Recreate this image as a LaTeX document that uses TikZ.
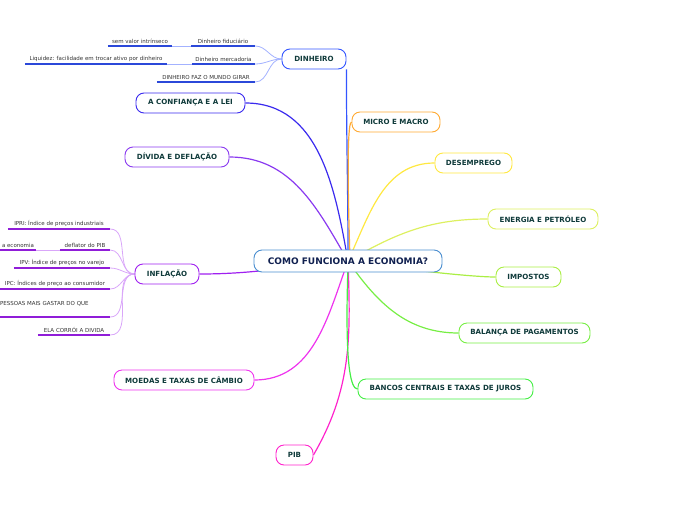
\documentclass[tikz,border=0pt]{standalone}
\usepackage{fontspec}
\setmainfont{DejaVu Sans}
\usetikzlibrary{backgrounds}

\definecolor{rootblue}{HTML}{4A8ED0}
\definecolor{roottext}{HTML}{102050}
\definecolor{topictext}{HTML}{0F3A3A}
\definecolor{leaftext}{HTML}{333333}
\definecolor{cdin}{HTML}{3355FF}
\definecolor{cconf}{HTML}{3A2AEE}
\definecolor{cdiv}{HTML}{8A3AF0}
\definecolor{cinf}{HTML}{A020F0}
\definecolor{cmoe}{HTML}{EE33EE}
\definecolor{cpib}{HTML}{FF22CC}
\definecolor{cmic}{HTML}{FFAA33}
\definecolor{cdes}{HTML}{FFE840}
\definecolor{cene}{HTML}{DDF060}
\definecolor{cimp}{HTML}{AAEE44}
\definecolor{cbal}{HTML}{77EE44}
\definecolor{cban}{HTML}{44EE44}

\newcommand\topicfont{\fontsize{7.1}{8}\selectfont\bfseries}
\newcommand\leaffont{\fontsize{5.5}{6.5}\selectfont}

\begin{document}
\begin{tikzpicture}[x=1pt,y=1pt,
  topic/.style={draw=#1, line width=0.9pt, rounded corners=8pt, fill=white,
    minimum height=20pt, inner xsep=4pt, font=\topicfont, text=topictext},
  branch/.style={draw=#1, line width=1.2pt},
  leaf/.style={minimum width=#1, inner xsep=0pt, inner ysep=2pt, anchor=south,
    font=\leaffont, text=leaftext},
  dinline/.style={draw=cdin!85!black, line width=1.2pt},
  dintwig/.style={draw=cdin!45, line width=0.8pt},
  infline/.style={draw=cinf!90!black, line width=1.2pt},
  inftwig/.style={draw=cinf!40, line width=0.8pt}]
\useasboundingbox (0,0) rectangle (696,-520);

\node[topic=rootblue, minimum width=188pt, minimum height=22pt,
  font=\fontsize{9}{10}\selectfont\bfseries, text=roottext] (root) at (348,-261) {COMO FUNCIONA A ECONOMIA?};

\node[topic=cdin, minimum width=64pt] (din) at (314,-59) {DINHEIRO};
\node[topic=cconf, minimum width=109pt] (conf) at (190.5,-103) {A CONFIANÇA E A LEI};
\node[topic=cdiv, minimum width=104pt] (div) at (177,-157) {DÍVIDA E DEFLAÇÃO};
\node[topic=cinf, minimum width=64pt] (inf) at (167,-274) {INFLAÇÃO};
\node[topic=cmoe, minimum width=140pt] (moe) at (184,-380) {MOEDAS E TAXAS DE CÂMBIO};
\node[topic=cpib, minimum width=37pt] (pib) at (294.5,-455) {PIB};
\node[topic=cmic, minimum width=88pt] (mic) at (396,-122) {MICRO E MACRO};
\node[topic=cdes, minimum width=77pt] (des) at (473.5,-163) {DESEMPREGO};
\node[topic=cene, minimum width=110pt] (ene) at (543,-219) {ENERGIA E PETRÓLEO};
\node[topic=cimp, minimum width=65pt] (imp) at (528.5,-277) {IMPOSTOS};
\node[topic=cbal, minimum width=131pt] (bal) at (524.5,-333) {BALANÇA DE PAGAMENTOS};
\node[topic=cban, minimum width=175pt] (ban) at (445.5,-389) {BANCOS CENTRAIS E TAXAS DE JUROS};

\node[leaf=64pt] (semv) at (140,-46) {sem valor intrínseco};
\node[leaf=64pt] (fid) at (223,-46) {Dinheiro fiduciário};
\node[leaf=142pt] (liq) at (96,-64) {Liquidez: facilidade em trocar ativo por dinheiro};
\node[leaf=63pt] (merc) at (223.5,-64) {Dinheiro mercadoria};
\node[leaf=98pt] (giro) at (206,-82) {DINHEIRO FAZ O MUNDO GIRAR};

\node[leaf=102pt] (ipri) at (59,-229) {IPRI: Índice de preços industriais};
\node[leaf=36pt] (econ) at (18,-250) {a economia};
\node[leaf=50pt] (defl) at (85,-250) {deflator do PIB};
\node[leaf=96pt] (ipv) at (62,-268) {IPV: Índice de preços no varejo};
\node[leaf=110pt] (ipc) at (55,-289) {IPC: Índices de preço ao consumidor};
\node[leaf=110pt, text width=110pt, align=left, text depth=9pt] (pess) at (55,-317) {PESSOAS MAIS GASTAR DO QUE};
\node[leaf=72pt] (ela) at (74,-335) {ELA CORRÓI A DIVIDA};

\foreach \n in {semv,fid,liq,merc,giro}
  \draw[dinline] (\n.south west) -- (\n.south east);
\foreach \n in {ipri,econ,defl,ipv,ipc,pess,ela}
  \draw[infline] (\n.south west) -- (\n.south east);

\begin{scope}[on background layer]
  \draw[branch=cdin] (root.center) to[out=90,in=-90] (din.south east);
  \draw[branch=cconf] (root.center) to[out=100,in=0] (conf.east);
  \draw[branch=cdiv] (root.center) to[out=120,in=0] (div.east);
  \draw[branch=cinf] (root.center) to[out=185,in=0] (inf.east);
  \draw[branch=cmoe] (root.center) to[out=-110,in=0] (moe.east);
  \draw[branch=cpib] (root.center) to[out=-88,in=60] (pib.east);
  \draw[branch=cmic] ([xshift=2pt]root.center) to[out=90,in=180,looseness=0.12] (mic.west);
  \draw[branch=cdes] (root.center) to[out=65,in=180] (des.west);
  \draw[branch=cene] (root.center) to[out=30,in=180] (ene.west);
  \draw[branch=cimp] (root.center) to[out=-10,in=180,looseness=0.5] (imp.west);
  \draw[branch=cbal] (root.center) to[out=-55,in=180] (bal.west);
  \draw[branch=cban] (root.center) to[out=-90,in=180,looseness=0.3] (ban.west);

  \foreach \n in {fid,merc,giro}
    \draw[dintwig] (din.west) to[out=180,in=0] (\n.south east);
  \draw[dintwig] (semv.south east) -- (fid.south west);
  \draw[dintwig] (liq.south east) -- (merc.south west);

  \foreach \n in {ipri,defl,ipv,ipc,pess,ela}
    \draw[inftwig] (inf.west) to[out=180,in=0] (\n.south east);
  \draw[inftwig] (econ.south east) -- (defl.south west);
\end{scope}
\end{tikzpicture}
\end{document}
